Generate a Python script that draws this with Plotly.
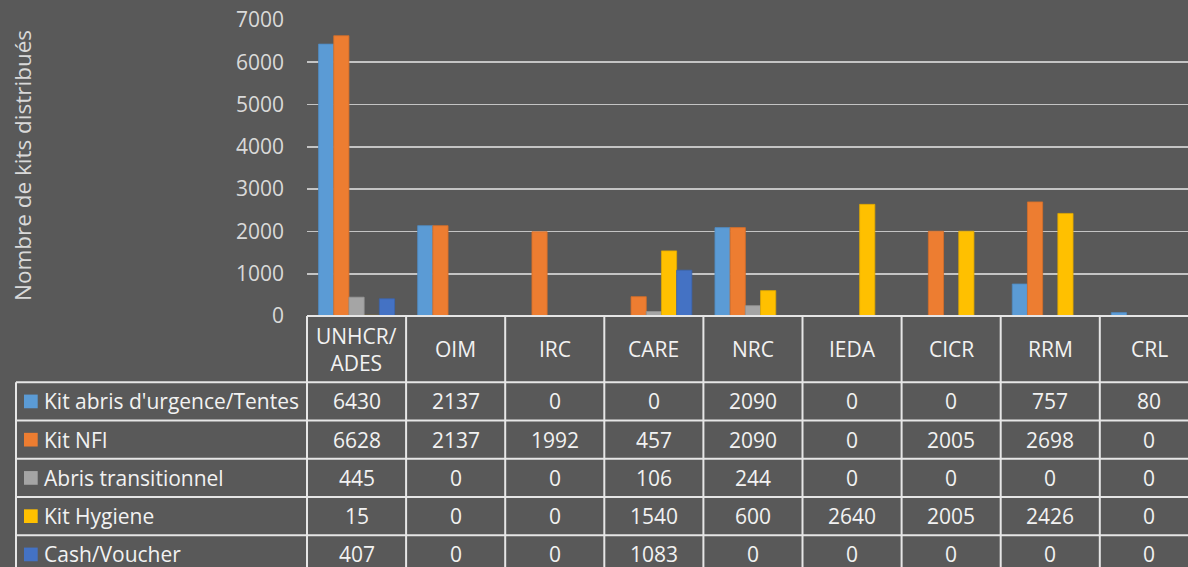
import plotly.graph_objects as go

# ---------------- data ----------------
categories = ["UNHCR/ADES", "OIM", "IRC", "CARE", "NRC", "IEDA", "CICR", "RRM", "CRL"]
category_labels = ["UNHCR/<br>ADES", "OIM", "IRC", "CARE", "NRC", "IEDA", "CICR", "RRM", "CRL"]
series_names = ["Kit abris d'urgence/Tentes", "Kit NFI", "Abris transitionnel", "Kit Hygiene", "Cash/Voucher"]
kit_abris = [6430, 2137, 0, 0, 2090, 0, 0, 757, 80]
kit_nfi = [6628, 2137, 1992, 457, 2090, 0, 2005, 2698, 0]
abris_transitionnel = [445, 0, 0, 106, 244, 0, 0, 0, 0]
kit_hygiene = [15, 0, 0, 1540, 600, 2640, 2005, 2426, 0]
cash_voucher = [407, 0, 0, 1083, 0, 0, 0, 0, 0]
y_ticks = [0, 1000, 2000, 3000, 4000, 5000, 6000, 7000]

series_values = [kit_abris, kit_nfi, abris_transitionnel, kit_hygiene, cash_voucher]
colors = ["#5B9BD5", "#ED7D31", "#A5A5A5", "#FFC000", "#4472C4"]
edge_colors = ["#4F8AC0", "#D46E2A", "#949494", "#E0A800", "#3B64AE"]

# ---------------- layout constants ----------------
W, H = 1188, 567
M_L, M_R, M_T, M_B = 307, 0, 20, 251
PLOT_H = H - M_T - M_B
PLOT_W = W - M_L - M_R
BG = "#595959"
LINE = "#E6E6E6"
TXT = "#F2F2F2"
FONT = "Open Sans"
FS = 21

def py(p):
    """pixel row -> paper y"""
    return (H - M_B - p) / PLOT_H

def px(p):
    """pixel column -> paper x"""
    return (p - M_L) / PLOT_W

header_top = H - M_B
header_bot = 382.3
row_h = 38.25
n_rows = len(series_names)
table_bot = header_bot + n_rows * row_h
legend_left = 16

fig = go.Figure()
for name, vals, c, ec in zip(series_names, series_values, colors, edge_colors):
    fig.add_trace(go.Bar(
        x=categories, y=vals, name=name,
        marker=dict(color=c, line=dict(color=ec, width=0.8)),
        showlegend=False,
    ))

shapes = []
annotations = []

# top border of table (under plot area)
shapes.append(dict(type="line", xref="paper", yref="paper", x0=0, x1=1.05,
                   y0=py(header_top), y1=py(header_top), line=dict(color=LINE, width=2)))
# row lines
for r in range(n_rows + 1):
    yy = py(header_bot + r * row_h)
    shapes.append(dict(type="line", xref="paper", yref="paper", x0=px(legend_left), x1=1.05,
                       y0=yy, y1=yy, line=dict(color=LINE, width=2)))
# left borders
shapes.append(dict(type="line", xref="paper", yref="paper", x0=0, x1=0,
                   y0=py(header_top), y1=py(table_bot), line=dict(color=LINE, width=2)))
shapes.append(dict(type="line", xref="paper", yref="paper", x0=px(legend_left), x1=px(legend_left),
                   y0=py(header_bot), y1=py(table_bot), line=dict(color=LINE, width=2)))
# category column borders
for i in range(1, len(categories) + 1):
    shapes.append(dict(type="line", xref="x", yref="paper", x0=i - 0.5, x1=i - 0.5,
                       y0=py(header_top), y1=py(table_bot), line=dict(color=LINE, width=2)))

# header labels
for i, lab in enumerate(category_labels):
    annotations.append(dict(x=i, xref="x", y=py((header_top + header_bot) / 2), yref="paper",
                            text=lab, showarrow=False, xanchor="center", yanchor="middle",
                            font=dict(family=FONT, size=FS, color=TXT)))

# rows
for r, (name, vals, c) in enumerate(zip(series_names, series_values, colors)):
    top = header_bot + r * row_h
    cy = py(top + row_h / 2)
    sw = 13.7
    shapes.append(dict(type="rect", xref="paper", yref="paper",
                       x0=px(24), x1=px(24 + sw),
                       y0=py(top + row_h / 2 - sw / 2), y1=py(top + row_h / 2 + sw / 2),
                       fillcolor=c, line=dict(width=0)))
    annotations.append(dict(x=px(42), xref="paper", y=cy, yref="paper", text=name,
                            showarrow=False, xanchor="left", yanchor="middle",
                            font=dict(family=FONT, size=FS, color=TXT)))
    for i, v in enumerate(vals):
        annotations.append(dict(x=i, xref="x", y=cy, yref="paper", text=str(v),
                                showarrow=False, xanchor="center", yanchor="middle",
                                font=dict(family=FONT, size=FS, color=TXT)))

# y axis title
annotations.append(dict(x=px(22), xref="paper", y=py(166), yref="paper",
                        text="Nombre de kits distribués", textangle=-90, showarrow=False,
                        xanchor="center", yanchor="middle",
                        font=dict(family=FONT, size=22.5, color="#D9D9D9")))

col_w = 99.1
x_end = -0.5 + PLOT_W / col_w

fig.update_layout(
    width=W, height=H,
    margin=dict(l=M_L, r=M_R, t=M_T, b=M_B, pad=0),
    paper_bgcolor=BG, plot_bgcolor=BG,
    barmode="group", bargap=0.233, bargroupgap=0,
    shapes=shapes, annotations=annotations,
    xaxis=dict(range=[-0.5, x_end], showticklabels=False, showgrid=False, zeroline=False,
               showline=False, ticks="", fixedrange=True),
    yaxis=dict(range=[0, 7000], tickvals=y_ticks, showgrid=True, gridcolor="#C4C4C4",
               gridwidth=1.6, zeroline=False, showline=False, ticks="",
               ticklabelstandoff=22, fixedrange=True,
               tickfont=dict(family=FONT, size=FS, color="#D9D9D9")),
    font=dict(family=FONT),
    hovermode=False,
)

fig.write_html(
    "out.html",
    config={"displayModeBar": False, "staticPlot": True},
    post_script="document.body.style.margin='0';document.body.style.overflow='hidden';",
)
